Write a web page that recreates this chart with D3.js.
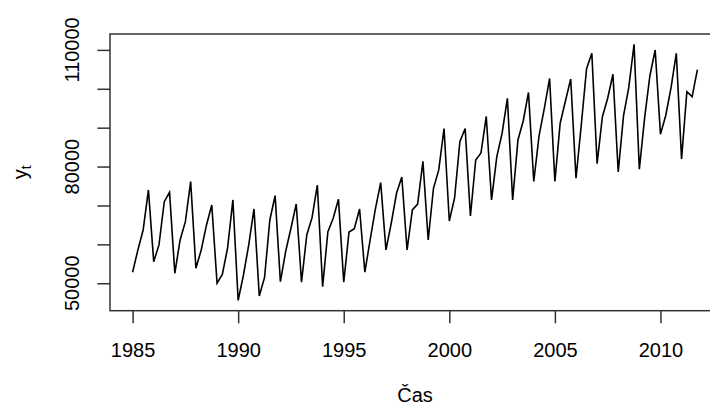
<!DOCTYPE html>
<html>
<head>
<meta charset="utf-8">
<script src="https://cdn.jsdelivr.net/npm/d3@7"></script>
<style>
  body { margin: 0; background: #fff; }
  text { font-family: "Liberation Sans", Arial, sans-serif; fill: #000; }
</style>
</head>
<body>
<div id="chart"></div>
<script>
// quarterly series, 1985 Q1 .. 2011 Q4
const startYear = 1985;
const frequency = 4;
const values = [
  52830, 58560, 63700, 73990, 55550, 59850, 70980, 73400,
  52570, 61130, 65840, 76120, 53860, 58560, 64990, 70130,
  50000, 52260, 59080, 71420, 45580, 52130, 59850, 69100,
  46730, 51490, 66270, 72520, 50410, 58180, 64140, 70390,
  50260, 62420, 66920, 75200, 49130, 63270, 66710, 71600,
  50260, 63190, 64010, 69100, 52850, 61130, 69150, 75860,
  58560, 65430, 73140, 77330, 58560, 68850, 70340, 81340,
  61130, 74420, 79130, 89770, 66020, 71930, 86410, 89800,
  67300, 81700, 83500, 92880, 71420, 82550, 88570, 97560,
  71420, 86840, 91730, 99060, 76170, 87870, 94940, 102650,
  76170, 91140, 96870, 102530, 77000, 90700, 105150, 109130,
  80750, 92830, 97560, 103730, 78620, 93010, 100340, 111450,
  79310, 92500, 103350, 109980, 88330, 93140, 100210, 109130,
  81960, 99260, 97970, 104920
];
const xTicks = [1985, 1990, 1995, 2000, 2005, 2010];
const yTicks = [50000, 60000, 70000, 80000, 90000, 100000, 110000];
const yTickLabels = [50000, 80000, 110000];
const xTitle = "Čas";

const width = 710, height = 410;
const plot = { left: 110, right: 720, top: 34, bottom: 310.7 };

const series = values.map((v, i) => ({ t: startYear + i / frequency, v }));

const svg = d3.select("#chart").append("svg")
  .attr("width", width).attr("height", height);

// R-style 4% padding on both axes
const tMin = d3.min(series, d => d.t), tMax = d3.max(series, d => d.t);
const tPad = 0.04 * (tMax - tMin);
const vMin = d3.min(values), vMax = d3.max(values);
const vPad = 0.04 * (vMax - vMin);

const x = d3.scaleLinear().domain([tMin - tPad, tMax + tPad]).range([plot.left, plot.right]);
const y = d3.scaleLinear().domain([vMin - vPad, vMax + vPad]).range([plot.bottom, plot.top]);

const line = d3.line().x(d => x(d.t)).y(d => y(d.v));

svg.append("path")
  .datum(series)
  .attr("d", line)
  .attr("fill", "none")
  .attr("stroke", "#000")
  .attr("stroke-width", 1.6)
  .attr("stroke-linejoin", "miter");

// box
svg.append("rect")
  .attr("x", plot.left).attr("y", plot.top)
  .attr("width", plot.right - plot.left)
  .attr("height", plot.bottom - plot.top)
  .attr("fill", "none").attr("stroke", "#333").attr("stroke-width", 1.5);

// x axis
const xAxis = svg.append("g")
  .attr("transform", `translate(0,${plot.bottom})`)
  .call(d3.axisBottom(x).tickValues(xTicks).tickFormat(d3.format("d")).tickSize(12.6).tickSizeOuter(0));
xAxis.select(".domain").remove();
xAxis.selectAll("line").attr("stroke", "#333").attr("stroke-width", 1.5);
xAxis.selectAll("text")
  .attr("y", 46.3).attr("dy", null)
  .attr("font-size", 20).attr("font-family", null).attr("fill", "#000");

// y axis
const yAxis = svg.append("g")
  .attr("transform", `translate(${plot.left},0)`)
  .call(d3.axisLeft(y).tickValues(yTicks).tickFormat("").tickSize(12.6).tickSizeOuter(0));
yAxis.select(".domain").remove();
yAxis.selectAll("line").attr("stroke", "#333").attr("stroke-width", 1.5);

svg.append("g").selectAll("text")
  .data(yTickLabels)
  .join("text")
  .attr("transform", d => `translate(79,${y(d)}) rotate(-90)`)
  .attr("text-anchor", "middle")
  .attr("font-size", 20)
  .text(d => d);

// axis titles
svg.append("text")
  .attr("x", (plot.left + plot.right) / 2)
  .attr("y", 402)
  .attr("text-anchor", "middle")
  .attr("font-size", 20)
  .text(xTitle);

const yTitle = svg.append("text")
  .attr("transform", `translate(27,${(plot.top + plot.bottom) / 2}) rotate(-90)`)
  .attr("text-anchor", "middle")
  .attr("font-size", 20);
yTitle.append("tspan").text("y");
yTitle.append("tspan").attr("font-size", 14).attr("dy", 4).text("t");
</script>
</body>
</html>
